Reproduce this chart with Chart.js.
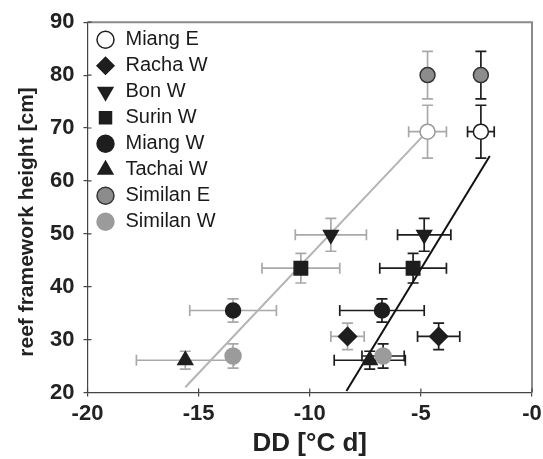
<!DOCTYPE html>
<html>
<head>
<meta charset="utf-8">
<script src="https://cdn.jsdelivr.net/npm/chart.js@4.4.0/dist/chart.umd.min.js"></script>
<style>
  html, body { margin: 0; padding: 0; background: #fff; }
</style>
</head>
<body>
<canvas id="ddChart" width="543" height="459"></canvas>
<script>
// sites and measured values
const sites = ['Miang E', 'Racha W', 'Bon W', 'Surin W', 'Miang W', 'Tachai W', 'Similan E', 'Similan W'];
const heights = [69.3, 30.6, 49.8, 43.5, 35.5, 26.1, 80.0, 26.9];
const heightErr = [5.0, 2.5, 3.1, 2.8, 2.2, 1.7, 4.5, 2.3];
// dark error bars (right-hand fit)
const ddDark = [-2.3, -4.2, -4.85, -5.35, -6.75, -7.3, -2.3, -6.7];
const ddDarkErr = [0.6, 0.95, 1.2, 1.5, 1.9, 1.6, 0, 0.95];
// grey error bars (left-hand fit)
const ddGrey = [-4.7, -8.3, -9.05, -10.4, -13.45, -15.6, -4.7, -13.45];
const ddGreyErr = [0.85, 0.75, 1.6, 1.75, 1.95, 2.2, 0, 0];
// regression line end points
const greyFitX = [-15.6, -4.7];
const greyFitY = [21.0, 69.4];
const darkFitX = [-8.35, -1.9];
const darkFitY = [20.3, 64.7];
const xTickLabels = ['-20', '-15', '-10', '-5', '-0'];

const FONT = "'Liberation Sans', Arial, sans-serif";
const DARK = '#1e1e1e';
const GREY = '#a9a9a9';

const markers = {
  'Miang E':   {style: 'circle',   rot: 0,   r: 7.5, fill: '#ffffff', line: DARK},
  'Racha W':   {style: 'rectRot',  rot: 0,   r: 9,   fill: DARK, line: DARK},
  'Bon W':     {style: 'triangle', rot: 180, r: 8.5, fill: DARK, line: DARK},
  'Surin W':   {style: 'rect',     rot: 0,   r: 9.5, fill: DARK, line: DARK},
  'Miang W':   {style: 'circle',   rot: 0,   r: 7.5, fill: DARK, line: DARK},
  'Tachai W':  {style: 'triangle', rot: 0,   r: 8.5, fill: DARK, line: DARK},
  'Similan E': {style: 'circle',   rot: 0,   r: 7.5, fill: '#8c8c8c', line: '#333333'},
  'Similan W': {style: 'circle',   rot: 0,   r: 8,   fill: '#9b9b9b', line: '#9b9b9b'}
};

const datasets = sites.map((s, i) => {
  const m = markers[s];
  return {
    label: s,
    errorBars: true,
    data: [
      {x: ddDark[i], y: heights[i], xErr: ddDarkErr[i], yErr: heightErr[i], bar: DARK},
      {x: ddGrey[i], y: heights[i], xErr: ddGreyErr[i], yErr: heightErr[i], bar: GREY}
    ],
    showLine: false,
    pointStyle: m.style,
    pointRotation: m.rot,
    pointRadius: m.r,
    pointHoverRadius: m.r,
    pointBackgroundColor: m.fill,
    backgroundColor: m.fill,
    pointBorderColor: c => (s === 'Miang E' && c.dataIndex === 1) ? '#9a9a9a' : m.line,
    borderColor: m.line,
    pointBorderWidth: 1.5
  };
});

datasets.push({
  type: 'line', label: 'fit grey',
  data: greyFitX.map((v, i) => ({x: v, y: greyFitY[i]})),
  borderColor: '#b4b4b4', borderWidth: 2, pointRadius: 0, fill: false
});
datasets.push({
  type: 'line', label: 'fit dark',
  data: darkFitX.map((v, i) => ({x: v, y: darkFitY[i]})),
  borderColor: '#111111', borderWidth: 2, pointRadius: 0, fill: false
});

const errorBars = {
  id: 'errorBars',
  beforeDatasetsDraw(chart) {
    const {ctx, chartArea: a, scales: {x, y}} = chart;
    ctx.save();
    ctx.beginPath();
    ctx.rect(a.left, a.top, a.width, a.height);
    ctx.clip();
    ctx.lineWidth = 1.7;
    const cap = 5.5;
    chart.data.datasets.forEach(ds => {
      if (!ds.errorBars) return;
      ds.data.forEach(p => {
        const px = x.getPixelForValue(p.x);
        const py = y.getPixelForValue(p.y);
        ctx.strokeStyle = p.bar;
        ctx.beginPath();
        if (p.xErr > 0) {
          const x0 = x.getPixelForValue(p.x - p.xErr);
          const x1 = x.getPixelForValue(p.x + p.xErr);
          ctx.moveTo(x0, py); ctx.lineTo(x1, py);
          ctx.moveTo(x0, py - cap); ctx.lineTo(x0, py + cap);
          ctx.moveTo(x1, py - cap); ctx.lineTo(x1, py + cap);
        }
        if (p.yErr > 0) {
          const y0 = y.getPixelForValue(p.y - p.yErr);
          const y1 = y.getPixelForValue(p.y + p.yErr);
          ctx.moveTo(px, y0); ctx.lineTo(px, y1);
          ctx.moveTo(px - cap, y0); ctx.lineTo(px + cap, y0);
          ctx.moveTo(px - cap, y1); ctx.lineTo(px + cap, y1);
        }
        ctx.stroke();
      });
    });
    ctx.restore();
  }
};

const frame = {
  id: 'frame',
  afterLayout(chart) {
    // legend sits inside the plot, top left
    const lg = chart.legend;
    if (lg) {
      lg.left = chart.chartArea.left + 2;
      lg.top = chart.chartArea.top + 1.5;
    }
  },
  beforeDatasetsDraw(chart) {
    const {ctx, chartArea: a, scales: {x, y}} = chart;
    ctx.save();
    ctx.strokeStyle = '#8a8a8a';
    ctx.lineWidth = 2;
    ctx.beginPath();
    ctx.moveTo(a.left, a.top); ctx.lineTo(a.right, a.top); ctx.lineTo(a.right, a.bottom);
    ctx.stroke();
    // inner half of the crossing tick marks
    ctx.strokeStyle = '#444';
    ctx.lineWidth = 1.2;
    ctx.beginPath();
    x.ticks.forEach((t, i) => {
      const px = x.getPixelForTick(i);
      ctx.moveTo(px, a.bottom); ctx.lineTo(px, a.bottom - 4);
    });
    y.ticks.forEach((t, i) => {
      const py = y.getPixelForTick(i);
      ctx.moveTo(a.left, py); ctx.lineTo(a.left + 4, py);
    });
    ctx.stroke();
    ctx.restore();
  }
};

new Chart(document.getElementById('ddChart'), {
  type: 'scatter',
  data: {datasets: datasets},
  plugins: [errorBars, frame],
  options: {
    responsive: false,
    animation: false,
    layout: {padding: {top: 20, right: 7, left: 0, bottom: 0}},
    plugins: {
      tooltip: {enabled: false},
      legend: {
        position: 'chartArea',
        align: 'start',
        labels: {
          usePointStyle: true,
          boxWidth: 20,
          boxHeight: 12,
          padding: 6,
          color: '#1a1a1a',
          font: {family: FONT, size: 20},
          filter: item => item.datasetIndex < sites.length
        }
      }
    },
    scales: {
      x: {
        type: 'linear',
        min: -20, max: 0,
        afterFit(s) { s.height = 66.5; s.paddingRight = 0; },
        border: {color: '#444', width: 1.2},
        grid: {drawOnChartArea: false, drawTicks: true, tickLength: 4, color: '#444', lineWidth: 1.2},
        ticks: {
          stepSize: 5, padding: 4, color: '#222',
          font: {family: FONT, size: 22, weight: 'bold'},
          callback: (v, i) => xTickLabels[i]
        },
        title: {
          display: true, text: 'DD [°C d]', color: '#222',
          font: {family: FONT, size: 26, weight: 'bold'},
          padding: {top: 0, bottom: 0}
        }
      },
      y: {
        type: 'linear',
        min: 20, max: 90,
        afterFit(s) { s.width = 87.5; },
        border: {color: '#444', width: 1.2},
        grid: {drawOnChartArea: false, drawTicks: true, tickLength: 4, color: '#444', lineWidth: 1.2},
        ticks: {
          stepSize: 10, padding: 9, color: '#222',
          font: {family: FONT, size: 22, weight: 'bold'}
        },
        title: {
          display: true,
          // trailing spaces nudge the centred title down, as in the original
          text: 'reef framework height [cm]\u00a0\u00a0\u00a0\u00a0\u00a0',
          color: '#222',
          font: {family: FONT, size: 21, weight: 'bold'},
          padding: {top: 15, bottom: 0}
        }
      }
    }
  }
});
</script>
</body>
</html>
